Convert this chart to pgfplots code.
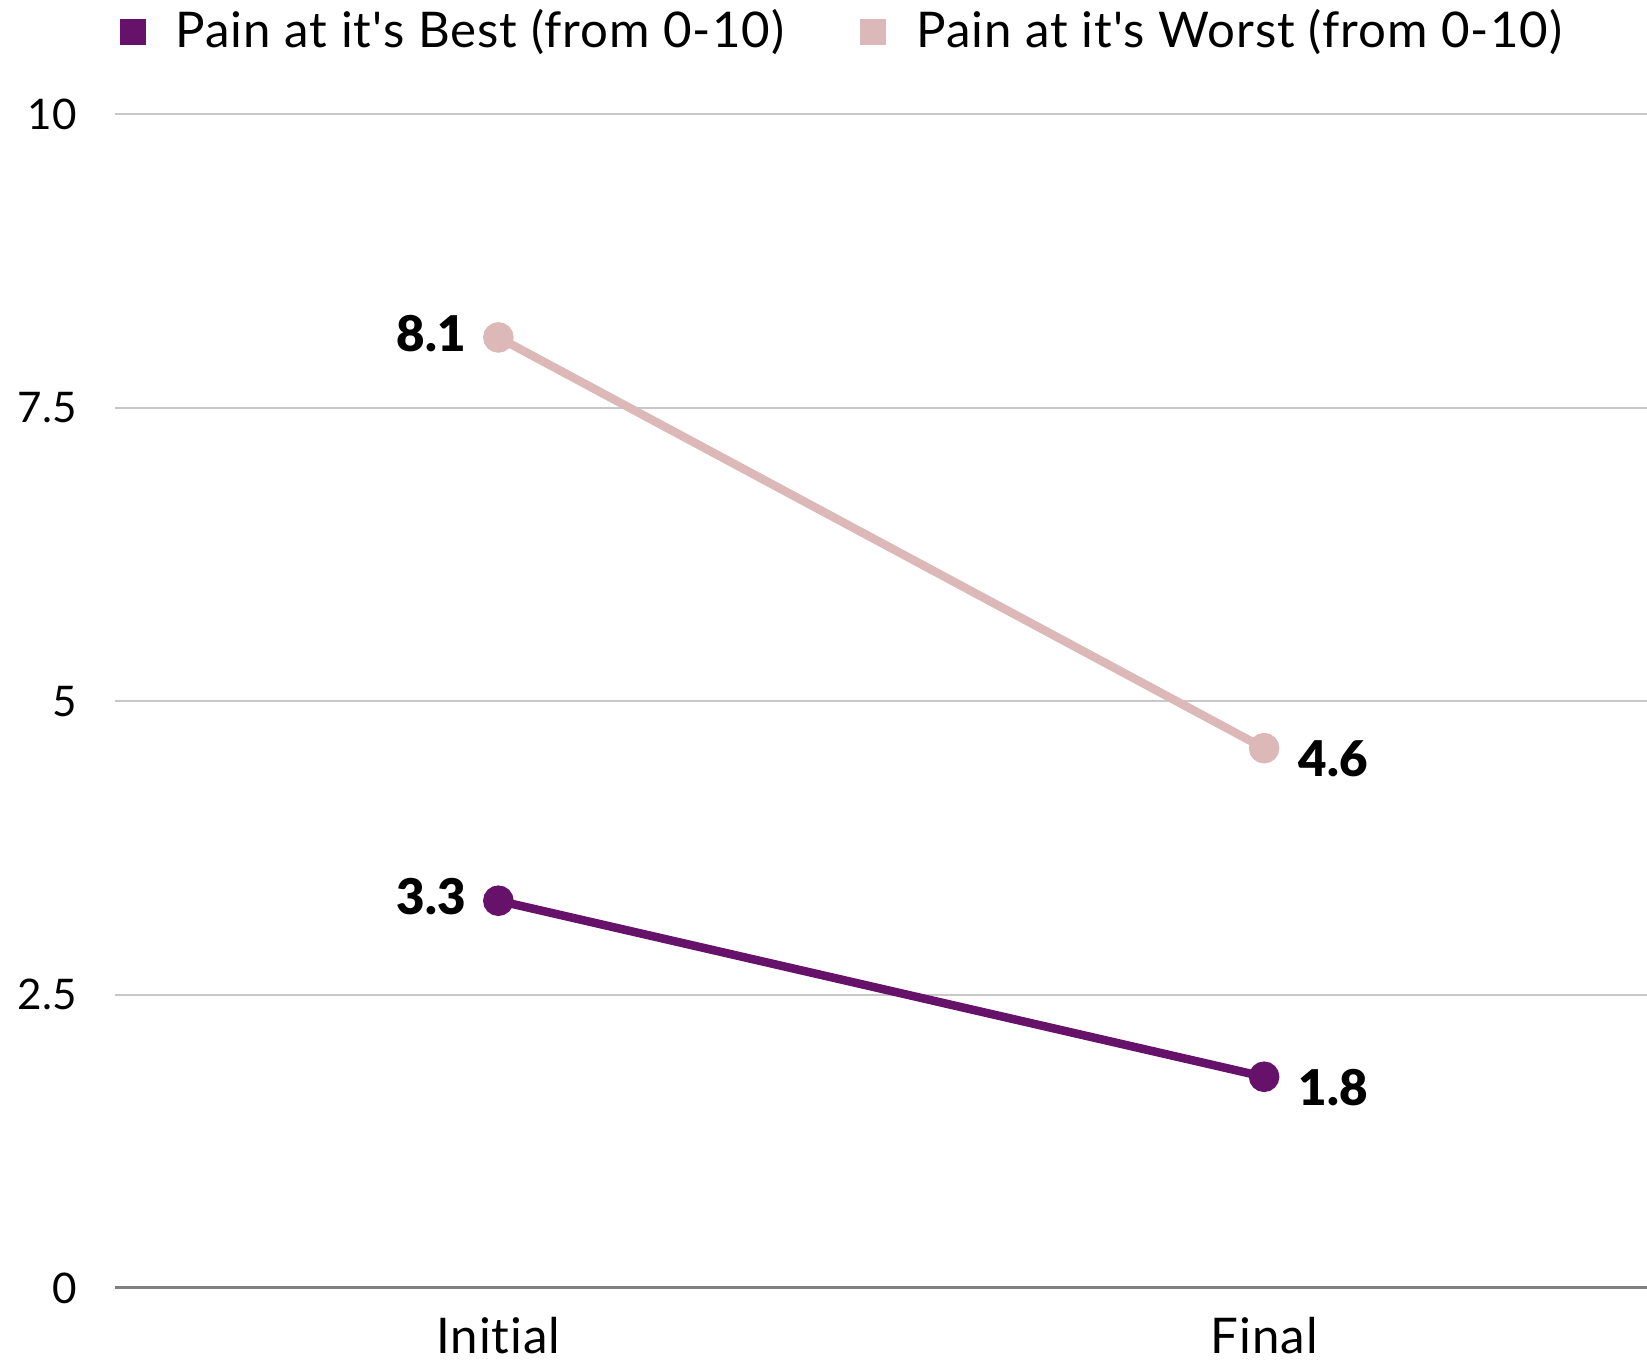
\documentclass[border=0pt]{standalone}
\usepackage{fontspec}
\setmainfont{Lato}[Ligatures={TeXOff,NoCommon}]
\newfontfamily\labelfont{Lato Black}
\usepackage{pgfplots}
\pgfplotsset{compat=1.18}

\definecolor{bestc}{HTML}{66126B}
\definecolor{worstc}{HTML}{DDB8B8}
\definecolor{gridgray}{HTML}{C8C8C8}
\definecolor{basegray}{HTML}{808080}

\begin{document}
\begin{tikzpicture}
\useasboundingbox (-11.55mm,-7.5mm) rectangle (153.15mm,128.8mm);
\begin{axis}[
  at={(0,0)}, anchor=south west, scale only axis,
  width=153.15mm, height=117.35mm,
  xmin=-0.5, xmax=1.5, ymin=0, ymax=10,
  clip=false,
  xtick={0,1}, xticklabels={Initial,Final},
  ytick={0,2.5,5,7.5,10},
  axis line style={draw=none},
  major tick length=0pt,
  ymajorgrids, grid style={color=gridgray, line width=0.2mm},
  extra y ticks={0}, extra y tick labels={},
  extra y tick style={grid style={color=basegray, line width=0.3mm}},
  /pgf/number format/assume math mode=true,
  yticklabel style={anchor=east, inner sep=0pt, xshift=-3.8mm, font=\fontsize{12}{14}\selectfont},
  xticklabel style={anchor=base, inner sep=0pt, yshift=-6.6mm, font=\fontsize{14}{16}\selectfont\addfontfeatures{LetterSpace=2}},
  legend columns=2,
  legend style={at={(0.476,1.0707)}, anchor=center, draw=none, fill=none,
    font=\fontsize{14}{16}\selectfont\addfontfeatures{LetterSpace=2},
    /tikz/every odd column/.append style={column sep=2.3mm},
    /tikz/every even column/.append style={column sep=6.9mm}},
  legend image code/.code={\fill[draw=none] (0mm,-1.3mm) rectangle (2.6mm,1.3mm);},
]
% the two series
\addplot[color=bestc, line width=0.85mm, mark=*, mark size=1.1mm] coordinates {(0,3.3) (1,1.8)};
\addlegendentry{Pain at it's Best (from 0-10)}
\addplot[color=worstc, line width=0.85mm, mark=*, mark size=1.1mm] coordinates {(0,8.1) (1,4.6)};
\addlegendentry{Pain at it's Worst (from 0-10)}

% value labels: left of the first point, right of the last one
\addplot[draw=none, mark=none, forget plot, point meta=y, nodes near coords,
  nodes near coords style={anchor=east, inner sep=0pt, xshift=-3.2mm, yshift=0.4mm, text=black, font=\labelfont\fontsize{14}{16}\selectfont}]
  coordinates {(0,3.3) (0,8.1)};
\addplot[draw=none, mark=none, forget plot, point meta=y, nodes near coords,
  nodes near coords style={anchor=west, inner sep=0pt, xshift=3.4mm, yshift=-1.1mm, text=black, font=\labelfont\fontsize{14}{16}\selectfont}]
  coordinates {(1,1.8) (1,4.6)};
\end{axis}
\end{tikzpicture}
\end{document}
